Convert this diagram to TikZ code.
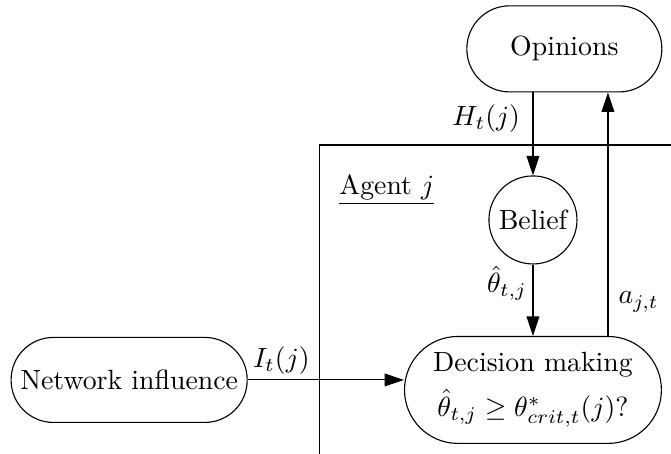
\documentclass[tikz,border=0pt]{standalone}
\usepackage{amsmath, amssymb}
\usepackage{tikz}
\usetikzlibrary{calc, arrows.meta, positioning}
\tikzset{
    pillnode/.style = {draw, rectangle, rounded corners=#1, inner sep = 0em, node distance=0em, font=\normalsize},
    circlenode/.style = {circle, draw, inner sep = 0em, node distance=0em},
    textnode/.style  = {draw=none, fill=none, rectangle, inner sep = 0em, node distance=0em, font=\normalsize},
    connect/.style = {black, -{Triangle[length=7pt, width=4.6pt]}},
    every text node part/.style={align=center}
}

\begin{document}
\begin{tikzpicture}
    \node [name=dec, pillnode=19.2pt, minimum width=92.5pt, minimum height=38.5pt] {Decision making\\[4pt] $\hat{\theta}_{t,j} \geq \theta^{*}_{crit,t}(j)?$};
    \node [name=net, pillnode=15.2pt, minimum width=85pt, minimum height=30.6pt, left of=dec, xshift=-145.4pt, yshift=3.6pt] {Network influence};
    \node [name=bel, circlenode, minimum size=31.7pt, above of=dec, yshift=61.2pt] {Belief};
    \node [name=ops, pillnode=15.4pt, minimum width=70.2pt, minimum height=31pt, above of=dec, xshift=11.3pt, yshift=122.8pt] {Opinions};

    % page and agent frame
    \coordinate (sw) at ($(dec)+(-191.9pt, -23pt)$);
    \coordinate (ne) at ($(dec)+(49.7pt, 140.4pt)$);
    \useasboundingbox (sw) rectangle (ne);
    \coordinate (frm) at ($(dec)+(-76.7pt, 88.2pt)$);
    \draw (frm |- sw) -- (frm) -- (frm -| ne);
    \node [name=agt, textnode, right of=frm, xshift=24.1pt, yshift=-16.2pt] {\underline{Agent $j$}};

    \draw (bel |- ops.south) edge[connect] node[name=hlab, textnode, left=4.5pt, pos=0.31] {$H_t(j)$} (bel);
    \draw (bel) edge[connect] node[name=tlab, textnode, left=2pt, pos=0.26] {$\hat{\theta}_{t,j}$} (dec);
    \draw (net) edge[connect] node[name=ilab, textnode, above=1.8pt, pos=0.215] {$I_t(j)$} (net -| dec.west);

    \coordinate (act) at ($(dec.north)+(27pt, 0)$);
    \draw (act) edge[connect] node[name=alab, textnode, right=3.6pt, pos=0.14] {$a_{j,t}$} (act |- ops.south);
\end{tikzpicture}
\end{document}
